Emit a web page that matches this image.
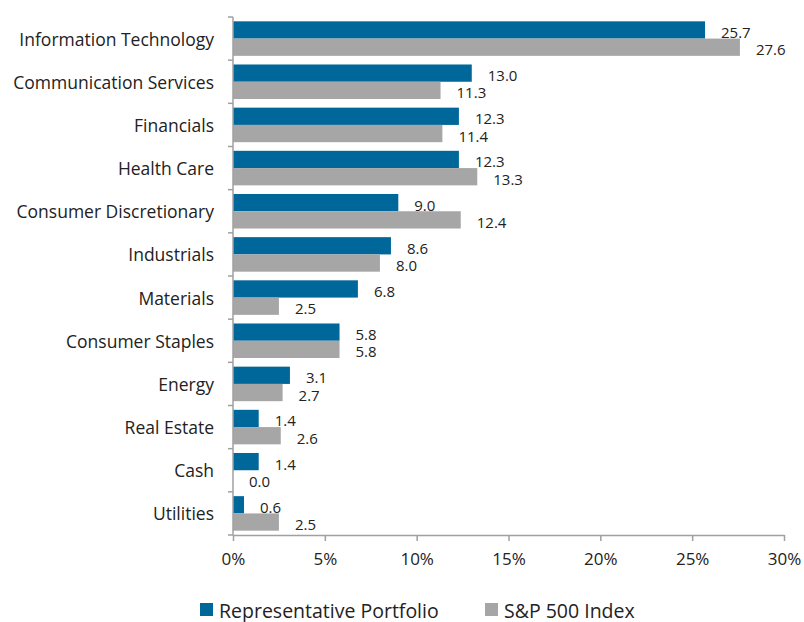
<!DOCTYPE html>
<html lang="en">
  <head>
    <meta charset="UTF-8" />
    <title>Sector Weights</title>
    <style>
      body {
        margin: 0;
        background: #fff;
        font-family: "Open Sans", "Noto Sans", sans-serif;
      }
    </style>
  </head>
  <body>
    <div id="chart"></div>
    <script src="https://d3js.org/d3.v7.min.js"></script>
    <script>
      const categories = [
        "Information Technology",
        "Communication Services",
        "Financials",
        "Health Care",
        "Consumer Discretionary",
        "Industrials",
        "Materials",
        "Consumer Staples",
        "Energy",
        "Real Estate",
        "Cash",
        "Utilities",
      ];
      const portfolio = [25.7, 13.0, 12.3, 12.3, 9.0, 8.6, 6.8, 5.8, 3.1, 1.4, 1.4, 0.6];
      const sp500 = [27.6, 11.3, 11.4, 13.3, 12.4, 8.0, 2.5, 5.8, 2.7, 2.6, 0.0, 2.5];
      const seriesNames = ["Representative Portfolio", "S&P 500 Index"];
      const xTicks = [0, 5, 10, 15, 20, 25, 30];

      const width = 804,
        height = 622;
      const margin = { top: 17, right: 20, bottom: 87, left: 233 };
      const colors = ["#00679a", "#a6a6a6"];
      const axisColor = "#a0a0a0";

      const svg = d3
        .select("#chart")
        .append("svg")
        .attr("width", width)
        .attr("height", height);

      const x = d3
        .scaleLinear()
        .domain([0, 30])
        .range([margin.left, width - margin.right]);

      const y = d3
        .scaleBand()
        .domain(categories)
        .range([margin.top, height - margin.bottom])
        .paddingInner(0.2)
        .paddingOuter(0.1);

      const inner = d3
        .scaleBand()
        .domain([0, 1])
        .range([0, y.bandwidth()]);

      const rows = categories.map((c, i) => ({
        name: c,
        vals: [portfolio[i], sp500[i]],
      }));

      // bars
      const g = svg
        .selectAll(".row")
        .data(rows)
        .enter()
        .append("g")
        .attr("class", "row")
        .attr("transform", (d) => `translate(0,${y(d.name)})`);

      g.selectAll("rect")
        .data((d) => d.vals)
        .enter()
        .append("rect")
        .attr("x", x(0))
        .attr("y", (d, i) => inner(i))
        .attr("width", (d) => x(d) - x(0))
        .attr("height", inner.bandwidth())
        .style("fill", (d, i) => colors[i]);

      g.selectAll(".val")
        .data((d) => d.vals)
        .enter()
        .append("text")
        .attr("class", "val")
        .attr("x", (d) => x(d) + 16)
        .attr("y", (d, i) => inner(i) + inner.bandwidth() / 2 + 2)
        .attr("dominant-baseline", "central")
        .style("font-size", "15px")
        .style("fill", "#222")
        .text((d) => d.toFixed(1));

      // y axis with ticks at category boundaries
      const plotTop = margin.top,
        plotBottom = height - margin.bottom;
      svg
        .append("line")
        .attr("x1", x(0))
        .attr("x2", x(0))
        .attr("y1", plotTop)
        .attr("y2", plotBottom)
        .style("stroke", axisColor)
        .style("stroke-width", 1.5);

      const bounds = d3.range(categories.length + 1).map(
        (i) => plotTop + i * y.step()
      );
      svg
        .selectAll(".ytick")
        .data(bounds)
        .enter()
        .append("line")
        .attr("x1", x(0) - 5)
        .attr("x2", x(0))
        .attr("y1", (d) => d)
        .attr("y2", (d) => d)
        .style("stroke", axisColor)
        .style("stroke-width", 1.5);

      svg
        .selectAll(".cat")
        .data(categories)
        .enter()
        .append("text")
        .attr("class", "cat")
        .attr("x", 214)
        .attr("y", (d) => y(d) + y.bandwidth() / 2)
        .attr("text-anchor", "end")
        .attr("dominant-baseline", "central")
        .style("font-size", "17.5px")
        .style("fill", "#222")
        .text((d) => d);

      // x axis
      const xAxis = svg
        .append("g")
        .attr("transform", `translate(0,${plotBottom})`)
        .call(
          d3
            .axisBottom(x)
            .tickValues(xTicks)
            .tickSize(6)
            .tickSizeOuter(0)
            .tickPadding(12)
            .tickFormat((d) => d + "%")
        );
      xAxis.select(".domain").style("stroke", axisColor).style("stroke-width", 1.5);
      xAxis.selectAll(".tick line").style("stroke", axisColor).style("stroke-width", 1.5);
      xAxis
        .selectAll(".tick text")
        .style("font-size", "17px")
        .style("font-family", "'Open Sans', sans-serif")
        .style("fill", "#222");

      // legend
      const legendX = [200, 485];
      const leg = svg
        .selectAll(".legend")
        .data(seriesNames)
        .enter()
        .append("g")
        .attr("class", "legend")
        .attr("transform", (d, i) => `translate(${legendX[i]},603)`);
      leg
        .append("rect")
        .attr("width", 13)
        .attr("height", 13)
        .style("fill", (d, i) => colors[i]);
      leg
        .append("text")
        .attr("x", 19)
        .attr("y", 7)
        .attr("dominant-baseline", "central")
        .style("font-size", "19.5px")
        .style("fill", "#222")
        .text((d) => d);
    </script>
  </body>
</html>
